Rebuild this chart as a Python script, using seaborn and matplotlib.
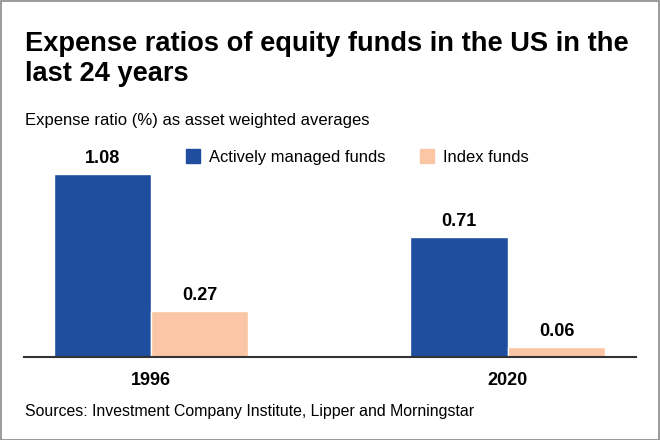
import pandas as pd
import numpy as np
import matplotlib
matplotlib.use("Agg")
import matplotlib.pyplot as plt
import seaborn as sns
from matplotlib.patches import Patch, Rectangle

# chart data
years = ["1996", "2020"]
active_funds = [1.08, 0.71]
index_funds = [0.27, 0.06]
series_names = ["Actively managed funds", "Index funds"]
series_colors = ["#1f4e9f", "#fbc6a5"]

df = pd.DataFrame({
    "year": years * 2,
    "ratio": active_funds + index_funds,
    "fund": [series_names[0]] * 2 + [series_names[1]] * 2,
})

sns.set_style("white")
# no condensed face available, Liberation Sans is the narrowest we have
plt.rcParams["font.family"] = ["Liberation Sans", "DejaVu Sans"]
plt.rcParams["text.color"] = "black"
plt.rcParams["xtick.color"] = "black"

W, H = 660, 440
fig = plt.figure(figsize=(6.6, 4.4), dpi=100)

# axes placed in pixel terms
left, right, base, top = 24, 636, 356.7, 145
ax = fig.add_axes([left / W, 1 - base / H, (right - left) / W, (base - top) / H])

sns.barplot(data=df, x="year", y="ratio", hue="fund", palette=series_colors,
            width=0.546, saturation=1, ax=ax, legend=False)

ax.set_xlim(-0.356, 1.359)
ax.set_ylim(0, (base - top) / 169.2)

for cont in ax.containers:
    ax.bar_label(cont, fmt="%.2f", padding=5, fontsize=13, fontweight="bold")

for s in ["left", "right", "top"]:
    ax.spines[s].set_visible(False)
ax.spines["bottom"].set_color("#333333")
ax.spines["bottom"].set_linewidth(1.5)
ax.set_yticks([])
ax.set_xlabel("")
ax.set_ylabel("")
ax.tick_params(axis="x", length=0, pad=11, labelsize=13)
for lab in ax.get_xticklabels():
    lab.set_fontweight("bold")

handles = [Patch(color=c, label=n) for c, n in zip(series_colors, series_names)]
fig.legend(handles=handles, loc="center left", bbox_to_anchor=(186 / W, 1 - 157 / H),
           ncol=2, frameon=False, fontsize=11.9, handlelength=0.85, handleheight=0.85,
           handletextpad=0.55, columnspacing=2.06, borderpad=0, borderaxespad=0)

fig.text(25 / W, 1 - 31 / H, "Expense ratios of equity funds in the US in the\nlast 24 years",
         fontsize=19.6, fontweight="bold", va="top", ha="left", linespacing=1.2)
fig.text(25 / W, 1 - 120 / H, "Expense ratio (%) as asset weighted averages",
         fontsize=12, va="center", ha="left")
fig.text(25 / W, 1 - 411 / H, "Sources: Investment Company Institute, Lipper and Morningstar",
         fontsize=11.4, va="center", ha="left")

# thin grey frame around the graphic
fig.patches.append(Rectangle((0.001, 0.001), 0.997, 0.996, transform=fig.transFigure,
                             fill=False, edgecolor="#8a8a8a", linewidth=1.2))

plt.savefig("out.png", dpi=100)
